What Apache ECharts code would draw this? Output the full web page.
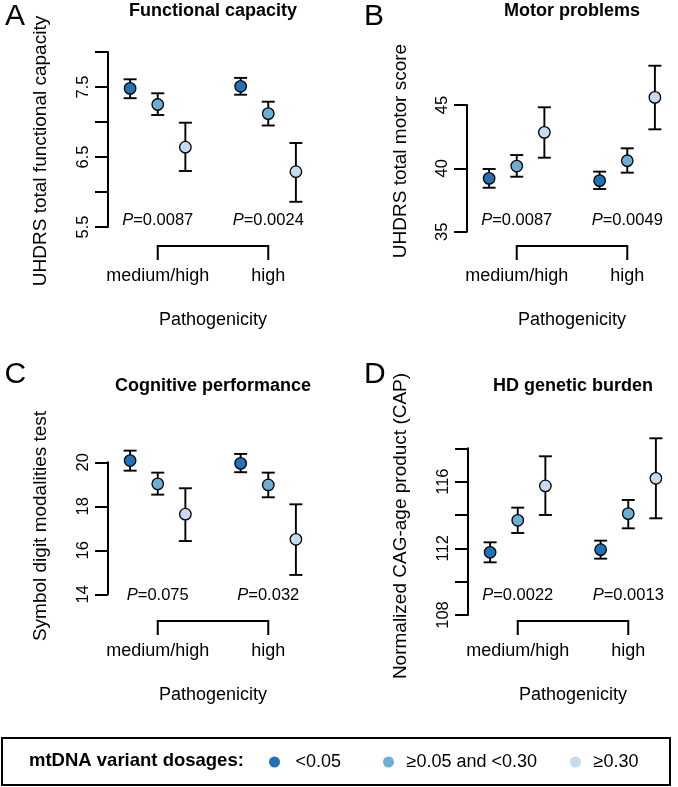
<!DOCTYPE html>
<html>
<head>
<meta charset="utf-8">
<script src="https://cdn.jsdelivr.net/npm/echarts@6/dist/echarts.min.js"></script>
<style>html,body{margin:0;padding:0;background:#fff}#c{width:678px;height:787px}</style>
</head>
<body>
<div id="c"></div>
<script>
// ---------------- DATA ----------------
const groups = ['medium/high', 'high'];
const dosageLevels = ['<0.05', '≥0.05 and <0.30', '≥0.30'];
const panelLetters = ['A', 'B', 'C', 'D'];
const panelTitles = ['Functional capacity', 'Motor problems', 'Cognitive performance', 'HD genetic burden'];
const yTitles = ['UHDRS total functional capacity', 'UHDRS total motor score', 'Symbol digit modalities test', 'Normalized CAG-age product (CAP)'];
const xTitle = 'Pathogenicity';
const legendTitle = 'mtDNA variant dosages:';

// order: [medium/high: <0.05, 0.05-0.30, >=0.30, high: <0.05, 0.05-0.30, >=0.30]
const funcMean = [7.48, 7.25, 6.64, 7.51, 7.12, 6.29];
const funcLow  = [7.34, 7.10, 6.30, 7.39, 6.95, 5.86];
const funcHigh = [7.61, 7.41, 6.99, 7.63, 7.29, 6.70];
const funcP = ['0.0087', '0.0024'];
const funcRange = [5.5, 8.0, 0.5];
const funcTickLabels = ['5.5', '6.5', '7.5'];

const motorMean = [39.21, 40.18, 42.84, 39.03, 40.60, 45.60];
const motorLow  = [38.47, 39.34, 40.84, 38.37, 39.66, 43.08];
const motorHigh = [39.95, 41.05, 44.82, 39.74, 41.58, 48.10];
const motorP = ['0.0087', '0.0049'];
const motorRange = [35, 45, 5];
const motorTickLabels = ['35', '40', '45'];

const cogMean = [20.08, 19.02, 17.64, 19.95, 18.97, 16.50];
const cogLow  = [19.62, 18.53, 16.42, 19.55, 18.41, 14.88];
const cogHigh = [20.53, 19.53, 18.82, 20.38, 19.53, 18.09];
const cogP = ['0.075', '0.032'];
const cogRange = [14, 20, 2];
const cogTickLabels = ['14', '16', '18', '20'];

const capMean = [111.76, 113.68, 115.74, 111.92, 114.08, 116.20];
const capLow  = [111.16, 112.92, 114.00, 111.38, 113.20, 113.80];
const capHigh = [112.36, 114.44, 117.52, 112.46, 114.90, 118.60];
const capP = ['0.0022', '0.0013'];
const capRange = [108, 118, 2];
const capTickLabels = ['108', '112', '116'];

const panels = [
  {mean: funcMean, low: funcLow, high: funcHigh, p: funcP, range: funcRange, ticks: funcTickLabels},
  {mean: motorMean, low: motorLow, high: motorHigh, p: motorP, range: motorRange, ticks: motorTickLabels},
  {mean: cogMean, low: cogLow, high: cogHigh, p: cogP, range: cogRange, ticks: cogTickLabels},
  {mean: capMean, low: capLow, high: capHigh, p: capP, range: capRange, ticks: capTickLabels}
];

// ---------------- LAYOUT / STYLE ----------------
const FONT = '"Liberation Sans", Arial, Helvetica, sans-serif';
const colors = ['#2171B5', '#6BAED6', '#C6DBEF'];
const layouts = [
  {left: 108, top: 52,    height: 175,   row: 0},
  {left: 467, top: 105,   height: 126.7, row: 0},
  {left: 108, top: 462.3, height: 132,   row: 1},
  {left: 468, top: 448.3, height: 166.7, row: 1}
];
const rows = [
  {bracketY: 246, pY: 220.5, titleTop: 2.4,   letterTop: 2,     yTitleY: 151},
  {bracketY: 621, pY: 595.5, titleTop: 377.4, letterTop: 359.5, yTitleY: 526}
];
const letterLefts = [5, 364, 4.5, 364];
const yTitleX = [41, 401, 41, 401];
const GRID_W = 210;
const X_MIN = 0.2, X_MAX = 7.8;

function xPos(g, k) { return 1 + k + 4 * g; }
function groupCenter(g) { return xPos(g, 1); }

const option = {
  animation: false,
  backgroundColor: '#fff',
  textStyle: {fontFamily: FONT, color: '#000'},
  title: [],
  grid: [],
  xAxis: [],
  yAxis: [],
  series: [],
  legend: [],
  graphic: {elements: []}
};

panels.forEach((pd, p) => {
  const L = layouts[p];
  const R = rows[L.row];
  const yMin = pd.range[0], yMax = pd.range[1], yInt = pd.range[2];

  option.grid.push({left: L.left, top: L.top, width: GRID_W, height: L.height, containLabel: false, outerBoundsMode: 'none'});

  option.xAxis.push({
    gridIndex: p, type: 'value', min: X_MIN, max: X_MAX, interval: 0.2,
    offset: R.bracketY - (L.top + L.height),
    axisLine: {show: false}, axisTick: {show: false}, splitLine: {show: false},
    axisLabel: {
      margin: 21.5, fontSize: 18, color: '#000', fontFamily: FONT,
      formatter: function (v) {
        for (let g = 0; g < groups.length; g++) {
          if (Math.abs(v - groupCenter(g)) < 1e-6) return groups[g];
        }
        return '';
      }
    },
    name: xTitle, nameLocation: 'middle', nameGap: 64.7,
    nameTextStyle: {fontSize: 18, color: '#000', fontFamily: FONT}
  });

  option.yAxis.push({
    gridIndex: p, type: 'value', min: yMin, max: yMax, interval: yInt,
    axisLine: {show: true, lineStyle: {color: '#000', width: 2}},
    axisTick: {show: true, length: 13, lineStyle: {color: '#000', width: 2}},
    splitLine: {show: false},
    axisLabel: {
      rotate: 90, margin: 16.5, fontSize: 16.5, color: '#000', fontFamily: FONT,
      formatter: function (v) {
        const s = pd.ticks.find(t => Math.abs(parseFloat(t) - v) < 1e-6);
        return s || '';
      }
    }
  });

  // error bars
  option.series.push({
    type: 'custom', xAxisIndex: p, yAxisIndex: p, silent: true, clip: false, z: 2,
    data: pd.mean.map((_, i) => [xPos(Math.floor(i / 3), i % 3), pd.low[i], pd.high[i]]),
    encode: {x: 0, y: [1, 2]},
    renderItem: function (params, api) {
      const x = api.value(0);
      const a = api.coord([x, api.value(1)]);
      const b = api.coord([x, api.value(2)]);
      const w = 6.5;
      const st = {stroke: '#000', lineWidth: 1.9, fill: null};
      return {type: 'group', children: [
        {type: 'line', shape: {x1: a[0], y1: a[1], x2: b[0], y2: b[1]}, style: st},
        {type: 'line', shape: {x1: a[0] - w, y1: a[1], x2: a[0] + w, y2: a[1]}, style: st},
        {type: 'line', shape: {x1: b[0] - w, y1: b[1], x2: b[0] + w, y2: b[1]}, style: st}
      ]};
    }
  });

  // points
  dosageLevels.forEach((name, k) => {
    option.series.push({
      type: 'scatter', name: name, xAxisIndex: p, yAxisIndex: p, silent: true, clip: false, z: 3,
      symbol: 'circle', symbolSize: 11.5,
      itemStyle: {color: colors[k], borderColor: '#000', borderWidth: 1.3, opacity: 1},
      data: groups.map((_, g) => [xPos(g, k), pd.mean[g * 3 + k]])
    });
  });

  // bracket joining the two pathogenicity groups (x axis)
  option.series.push({
    type: 'custom', xAxisIndex: p, yAxisIndex: p, silent: true, clip: false, z: 2,
    data: [[groupCenter(0), yMin]],
    renderItem: function (params, api) {
      const xa = api.coord([groupCenter(0), yMin])[0];
      const xb = api.coord([groupCenter(1), yMin])[0];
      const y = R.bracketY, t = 14;
      return {type: 'polyline', shape: {points: [[xa, y + t], [xa, y], [xb, y], [xb, y + t]]},
              style: {stroke: '#000', lineWidth: 2, fill: null}};
    }
  });

  // P values
  option.series.push({
    type: 'custom', xAxisIndex: p, yAxisIndex: p, silent: true, clip: false, z: 4,
    data: groups.map((_, g) => [groupCenter(g), yMin]),
    renderItem: function (params, api) {
      const x = api.coord([api.value(0), yMin])[0];
      return {type: 'text', x: x, y: R.pY, style: {
        text: '{i|P}=' + pd.p[params.dataIndex],
        rich: {i: {fontStyle: 'italic', fontSize: 16.5, fontFamily: FONT, fill: '#000'}},
        fontSize: 16.5, fontFamily: FONT, fill: '#000',
        align: 'center', verticalAlign: 'middle', textAlign: 'center', textVerticalAlign: 'middle'
      }};
    }
  });

  // titles and panel letters
  option.title.push({
    text: panelTitles[p], left: L.left + GRID_W / 2, top: R.titleTop, textAlign: 'center', padding: 0,
    textStyle: {fontSize: 18, fontWeight: 'bold', fontFamily: FONT, color: '#000'}
  });
  option.title.push({
    text: panelLetters[p], left: letterLefts[p], top: R.letterTop, padding: 0,
    textStyle: {fontSize: 30, fontWeight: 'normal', fontFamily: FONT, color: '#000'}
  });

  // y-axis title
  option.graphic.elements.push({
    type: 'text', x: yTitleX[p], y: R.yTitleY, rotation: Math.PI / 2, silent: true,
    style: {text: yTitles[p], fontSize: 19, fontFamily: FONT, fill: '#000',
            align: 'center', verticalAlign: 'middle', textAlign: 'center', textVerticalAlign: 'middle'}
  });
});

// legend
option.title.push({
  text: legendTitle, left: 29, top: 751, padding: 0,
  textStyle: {fontSize: 18.5, fontWeight: 'bold', fontFamily: FONT, color: '#000'}
});
const legendLefts = [269, 383, 570];
const legendWidths = [32, 26, 26];
dosageLevels.forEach((name, k) => {
  option.legend.push({
    data: [name], left: legendLefts[k], top: 753, orient: 'horizontal', padding: 0, itemGap: 0,
    itemWidth: legendWidths[k], itemHeight: 11, icon: 'circle', selectedMode: false,
    itemStyle: {borderWidth: 0, borderColor: 'transparent'},
    textStyle: {fontSize: 18, color: '#000', fontFamily: FONT}
  });
});
option.graphic.elements.push({
  type: 'rect', silent: true, shape: {x: 2, y: 738, width: 668, height: 47},
  style: {fill: 'none', stroke: '#000', lineWidth: 2}
});

const chart = echarts.init(document.getElementById('c'), null, {renderer: 'canvas', width: 678, height: 787});
chart.setOption(option);
</script>
</body>
</html>
